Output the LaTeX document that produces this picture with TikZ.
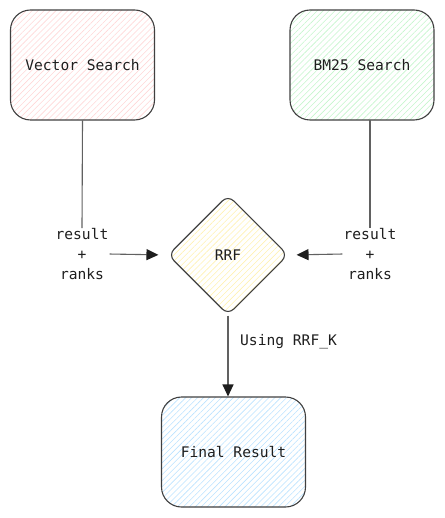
\documentclass[tikz,border=0pt]{standalone}
\usepackage{fontspec}
\setmainfont{DejaVu Sans Mono}
\usetikzlibrary{shapes.geometric,patterns.meta,arrows.meta}
\definecolor{ink}{HTML}{1E1E1E}
\definecolor{pinkh}{HTML}{FFC9C9}
\definecolor{greenh}{HTML}{B2F2BB}
\definecolor{yellowh}{HTML}{FFEC99}
\definecolor{blueh}{HTML}{A5D8FF}
\begin{document}
\begin{tikzpicture}[x=1pt,y=-1pt,
  lbl/.style={font=\fontsize{14.6}{20}\selectfont, text=ink},
  box/.style={lbl, draw=ink!85, line width=1.1pt, rounded corners=20pt,
    minimum width=144pt, minimum height=110pt, inner sep=0pt},
  hatch/.style={pattern={Lines[angle=45,distance=4.2pt,line width=0.6pt]}, pattern color=#1!75},
  decision/.style={lbl, diamond, draw=ink!85, line width=1.1pt, rounded corners=8pt,
    minimum width=120pt, minimum height=120pt, inner sep=0pt},
  conn/.style={draw=ink!70, line width=1.1pt},
  tip/.style={-{Triangle[length=12pt,width=11pt,color=ink]}}
]
\useasboundingbox (0,0) rectangle (444,518);

\node[box, hatch=pinkh] (vs) at (82.5,65) {Vector Search};
\node[box, hatch=greenh] (bm) at (362,65) {BM25 Search};
\node[decision, hatch=yellowh] (rrf) at (228,255) {RRF};
\node[box, hatch=blueh] (fr) at (233.5,452) {Final Result};

\node[lbl, align=center, inner sep=0pt] (lt) at (82,254) {result\\+\\ranks};
\node[lbl, align=center, inner sep=0pt] (rt) at (370,254) {result\\+\\ranks};
\node[lbl, anchor=west, inner sep=0pt] (ul) at (240,342) {Using RRF\_K};

\coordinate (bmlow) at (370,120);
\draw[conn] (vs.south) -- (lt.north);
\draw[conn] (bmlow) -- (rt.north);
\draw[conn, tip, shorten <=1pt, shorten >=9pt] (lt.east) -- (rrf.west);
\draw[conn, tip, shorten <=1pt, shorten >=8pt] (rt.west) -- (rrf.east);
\draw[conn, tip] (rrf.south) -- (rrf.south |- fr.north);
\end{tikzpicture}
\end{document}
